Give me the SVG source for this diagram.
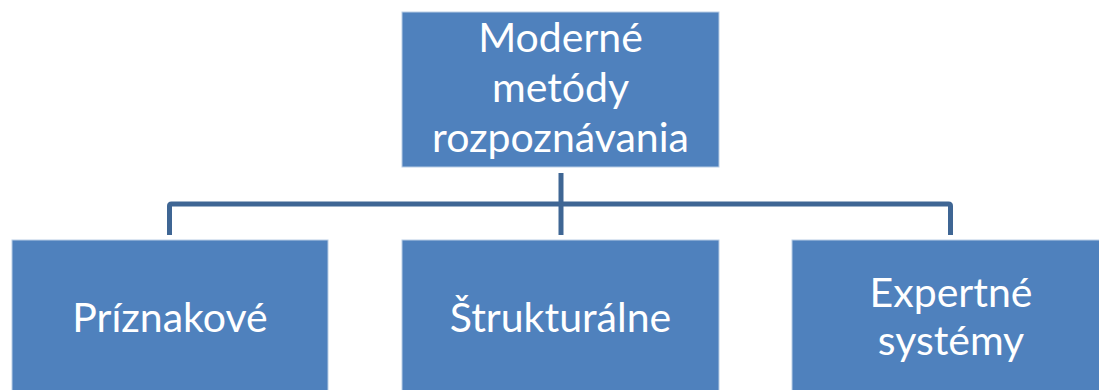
<svg xmlns="http://www.w3.org/2000/svg" width="1099" height="390" viewBox="0 0 1099 390">
<style>
.box{fill:#4f81bd;stroke:#b9cde5;stroke-width:1}
.t{font-family:Lato,"Open Sans",sans-serif;font-size:41px;fill:#ffffff;text-anchor:middle}
.c{fill:none;stroke:#3f6694;stroke-width:5}
</style>
<rect width="1099" height="390" fill="#ffffff"/>
<g id="connectors">
<path class="c" d="M561 173 V235"/>
<path class="c" d="M169.5 235 V206 Q169.5 204 171.5 204 H948.5 Q950.5 204 950.5 206 V235"/>
</g>
<g id="n0">
<rect class="box" x="402" y="12" width="317" height="155"/>
<text class="t" x="560.5" y="52">Moderné</text>
<text class="t" x="560.5" y="102">metódy</text>
<text class="t" x="560.5" y="152">rozpoznávania</text>
</g>
<g id="n1">
<rect class="box" x="12" y="240" width="316" height="160"/>
<text class="t" x="170" y="332">Príznakové</text>
</g>
<g id="n2">
<rect class="box" x="402" y="240" width="317" height="160"/>
<text class="t" x="560.5" y="332">Štrukturálne</text>
</g>
<g id="n3">
<rect class="box" x="792" y="240" width="318" height="160"/>
<text class="t" x="951" y="307">Expertné</text>
<text class="t" x="951" y="355">systémy</text>
</g>
</svg>
